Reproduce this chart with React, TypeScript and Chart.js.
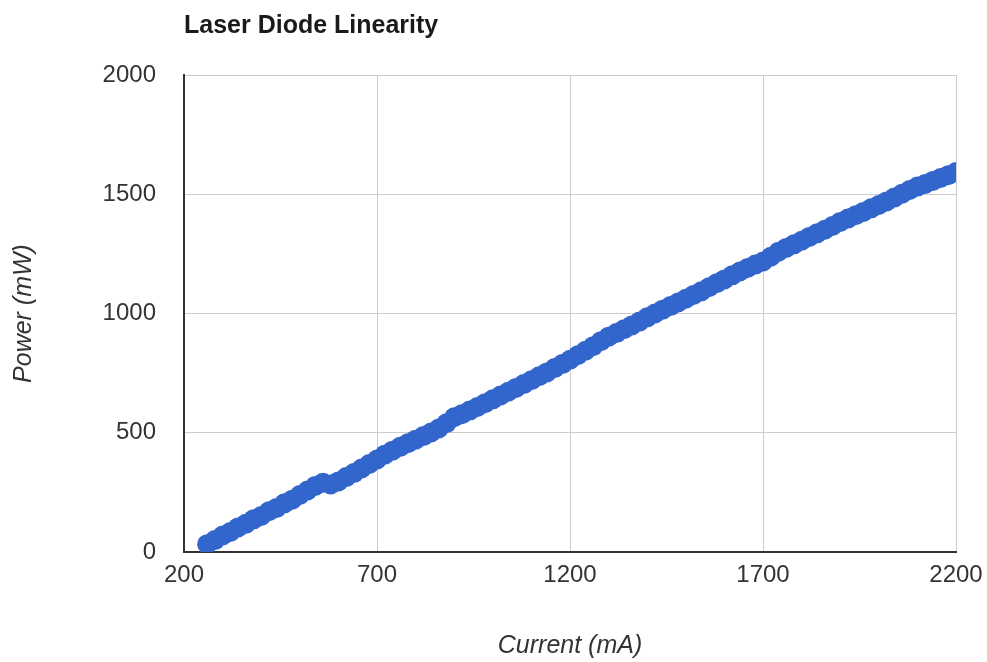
import { useEffect, useRef } from "react";
import { Chart, registerables } from "chart.js";

Chart.register(...registerables);

const chartTitle = "Laser Diode Linearity";
const xTitle = "Current (mA)";
const yTitle = "Power (mW)";

const xTicks = [200, 700, 1200, 1700, 2200];
const yTicks = [0, 500, 1000, 1500, 2000];

const currentMA = [
  260, 280, 300, 320, 340, 360, 380, 400, 420, 440,
  460, 480, 500, 520, 540, 560, 580, 600, 620, 640,
  660, 680, 700, 720, 740, 760, 780, 800, 820, 840,
  860, 880, 900, 920, 940, 960, 980, 1000, 1020, 1040,
  1060, 1080, 1100, 1120, 1140, 1160, 1180, 1200, 1220, 1240,
  1260, 1280, 1300, 1320, 1340, 1360, 1380, 1400, 1420, 1440,
  1460, 1480, 1500, 1520, 1540, 1560, 1580, 1600, 1620, 1640,
  1660, 1680, 1700, 1720, 1740, 1760, 1780, 1800, 1820, 1840,
  1860, 1880, 1900, 1920, 1940, 1960, 1980, 2000, 2020, 2040,
  2060, 2080, 2100, 2120, 2140, 2160, 2180, 2200,
];

const powerMW = [
  33, 50, 69, 84, 103, 118, 137, 151, 171, 185,
  204, 219, 239, 258, 277, 290, 283, 296, 314, 331,
  350, 369, 388, 408, 425, 441, 456, 471, 486, 501,
  518, 540, 565, 578, 593, 608, 624, 640, 656, 672,
  688, 704, 720, 737, 753, 771, 788, 806, 825, 844,
  863, 884, 903, 918, 934, 950, 966, 984, 1000, 1016,
  1031, 1046, 1062, 1078, 1093, 1110, 1127, 1143, 1160, 1176,
  1191, 1205, 1218, 1238, 1259, 1275, 1290, 1305, 1321, 1336,
  1351, 1367, 1384, 1398, 1412, 1426, 1441, 1455, 1470, 1486,
  1502, 1518, 1532, 1543, 1556, 1568, 1580, 1593,
];

const FAMILY = "'Liberation Sans', Arial, Helvetica, sans-serif";

export default function App() {
  const ref = useRef<HTMLCanvasElement | null>(null);

  useEffect(() => {
    if (!ref.current) return;

    const titlePlugin = {
      id: "leftTitle",
      afterDraw(chart: any) {
        const ctx = chart.ctx;
        ctx.save();
        ctx.font = `bold 25px ${FAMILY}`;
        ctx.fillStyle = "#1a1a1a";
        ctx.textAlign = "left";
        ctx.textBaseline = "alphabetic";
        ctx.fillText(chartTitle, chart.chartArea.left, 33);
        ctx.restore();
      },
    };

    const chart = new Chart(ref.current, {
      type: "scatter",
      data: {
        datasets: [
          {
            label: "Power",
            data: currentMA.map((x, i) => ({ x, y: powerMW[i] })),
            backgroundColor: "#3366cc",
            borderColor: "#3366cc",
            borderWidth: 0,
            pointRadius: 10,
            pointHoverRadius: 10,
          },
        ],
      },
      options: {
        responsive: false,
        animation: false,
        events: [],
        layout: { padding: { top: 75, right: 31, left: 0, bottom: 0 } },
        plugins: {
          legend: { display: false },
          tooltip: { enabled: false },
          title: { display: false },
        },
        scales: {
          x: {
            type: "linear",
            min: 200,
            max: 2200,
            afterBuildTicks: (s: any) => {
              s.ticks = xTicks.map((v) => ({ value: v }));
            },
            afterFit: (s: any) => {
              s.height = 110;
              s.paddingLeft = 0;
              s.paddingRight = 0;
            },
            grid: { color: "#cccccc", lineWidth: 1, drawTicks: false },
            border: { color: "#333333", width: 2 },
            ticks: {
              padding: 9,
              color: "#333333",
              font: { family: FAMILY, size: 24 },
              maxRotation: 0,
              callback: (v: any) => String(v),
            },
            title: {
              display: true,
              text: xTitle,
              color: "#333333",
              font: { family: FAMILY, size: 25, style: "italic" },
              padding: { top: 0, bottom: 1 },
            },
          },
          y: {
            type: "linear",
            min: 0,
            max: 2000,
            afterBuildTicks: (s: any) => {
              s.ticks = yTicks.map((v) => ({ value: v }));
            },
            afterFit: (s: any) => {
              s.width = 184;
              s.paddingTop = 0;
              s.paddingBottom = 0;
            },
            grid: { color: "#cccccc", lineWidth: 1, drawTicks: false },
            border: { color: "#333333", width: 2 },
            ticks: {
              padding: 28,
              color: "#333333",
              font: { family: FAMILY, size: 24 },
              callback: (v: any) => String(v),
            },
            title: {
              display: true,
              text: yTitle,
              color: "#333333",
              font: { family: FAMILY, size: 25, style: "italic" },
              padding: { top: 9, bottom: 0 },
            },
          },
        },
      },
      plugins: [titlePlugin],
    } as any);

    return () => chart.destroy();
  }, []);

  return (
    <canvas
      ref={ref}
      width={987}
      height={662}
      style={{ position: "absolute", left: 0, top: 0, display: "block", width: 987, height: 662 }}
    />
  );
}
